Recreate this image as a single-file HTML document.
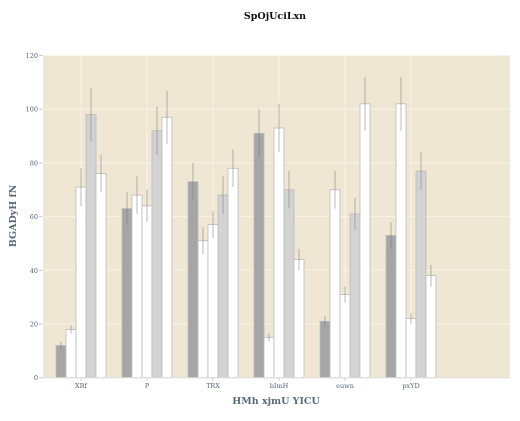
<!DOCTYPE html>
<html><head><meta charset="utf-8"><style>
body{margin:0;background:#fff;width:520px;height:416px;overflow:hidden}
text{font-family:"DejaVu Serif","Liberation Serif",serif}
</style></head><body>
<svg id="c" width="520" height="416"></svg>
<script>
const categories=["XRf","P","TRX","bImH","euwn","pxYD"];
const s1=[12,63,73,91,21,53];
const s2=[18,68,51,15,70,102];
const s3=[71,64,57,93,31,22];
const s4=[98,92,68,70,61,77];
const s5=[76,97,78,44,102,38];
const e1=[1.5,6,7,9,2,5];
const e2=[1.5,7,5,1.5,7,10];
const e3=[7,6,5,9,3,2];
const e4=[10,9,7,7,6,7];
const e5=[7,10,7,4,10,4];
const yTicks=[0,20,40,60,80,100,120];
const series=[s1,s2,s3,s4,s5],errs=[e1,e2,e3,e4,e5];
const fills=["#a6a6a6","#ffffff","#ffffff","#d3d3d3","#ffffff"];
const L=43,R=510,T=55.5,B=377.7,yMax=120;
const y=v=>B-(v/yMax)*(B-T);
const x=i=>81+66*i;
const NS="http://www.w3.org/2000/svg",svg=document.getElementById('c');
function mk(t,a,p){const e=document.createElementNS(NS,t);for(const k in a)e.setAttribute(k,a[k]);(p||svg).appendChild(e);return e;}
const bg=mk('rect',{x:L,y:T,width:R-L,height:B-T,fill:'#efe7d4'});


yTicks.forEach(t=>{
 const g=mk('line',{x1:L,x2:R,y1:y(t),y2:y(t),stroke:'#f8f3e6','stroke-width':1});
 
 
 mk('line',{x1:L-4,x2:L,y1:y(t),y2:y(t),stroke:'#ccc'});
 const tx=mk('text',{x:L-5,y:y(t)+2.5,'text-anchor':'end','font-size':6.5,fill:'#556677'});tx.textContent=t;
 
 
});
categories.forEach((c,i)=>{
 const g=mk('line',{x1:x(i),x2:x(i),y1:T,y2:B,stroke:'#f8f3e6'});
 
 
 mk('line',{x1:x(i),x2:x(i),y1:B,y2:B+3,stroke:'#ccc'});
 const tx=mk('text',{x:x(i),y:388,'text-anchor':'middle','font-size':6.5,fill:'#556677'});tx.textContent=c;
 
 
});
series.forEach((s,k)=>{
 s.forEach((v,i)=>{
  const bx=x(i)-25+10*k;
  const r=mk('rect',{x:bx,y:y(v),width:10,height:B-y(v),fill:fills[k],stroke:'#bbbbbb','stroke-width':0.8});
  
  
  const e=errs[k][i];
  const l=mk('line',{x1:bx+5,x2:bx+5,y1:y(v+e),y2:y(v-e),stroke:'rgba(120,120,120,0.35)','stroke-width':1.5});
  
  
 });
});
mk('line',{x1:L,x2:R,y1:B,y2:B,stroke:'#ddd'});
const ti=mk('text',{x:275,y:19,'text-anchor':'middle','font-size':9.5,'font-weight':'bold',fill:'#111'});ti.textContent='SpOjUciLxn';


const xt=mk('text',{x:276,y:404,'text-anchor':'middle','font-size':9.5,'font-weight':'bold',fill:'#5a6a78'});xt.textContent='HMh xjmU YICU';


const yt=mk('text',{x:16,y:216,'text-anchor':'middle','font-size':9.5,'font-weight':'bold',fill:'#5a6a78',transform:'rotate(-90 16 216)'});yt.textContent='BGADyH fN';


</script>
</body></html>
